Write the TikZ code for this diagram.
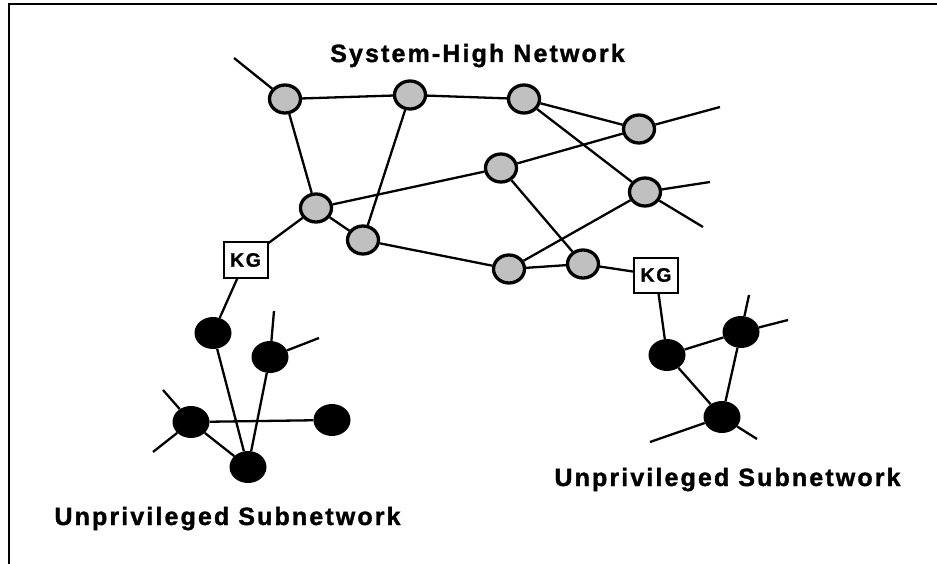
\documentclass[tikz,border=0pt]{standalone}
\usepackage{fontspec}
\setmainfont{Liberation Sans}
\newfontfamily\netfont[LetterSpace=8.5,FakeBold=1.3]{Liberation Sans Bold}
\usetikzlibrary{shapes.geometric}
\definecolor{hostgray}{RGB}{192,192,192}

\begin{document}
\begin{tikzpicture}[x=1pt,y=-1pt,
  hinode/.style={ellipse,draw,line width=3.3pt,fill=hostgray,minimum width=31pt,minimum height=28pt,inner sep=0pt},
  lonode/.style={ellipse,fill=black,minimum width=37pt,minimum height=32pt,inner sep=0pt},
  kgbox/.style={rectangle,draw,line width=2pt,fill=white,minimum width=44pt,minimum height=35pt,inner sep=0pt,font=\netfont\fontsize{19.5}{21}\selectfont},
  netlabel/.style={anchor=base,inner sep=0pt,font=\netfont\fontsize{25}{30}\selectfont},
  link/.style={line width=2.3pt}]
\useasboundingbox (0,0) rectangle (937,564);
% frame (top and left edge only)
\draw[line width=2pt] (9,564) -- (9,4.5) -- (937,4.5);

% system-high network
\node[hinode] (sh1) at (285,99) {};
\node[hinode] (sh2) at (410,95) {};
\node[hinode] (sh3) at (524,99) {};
\node[hinode] (sh4) at (639,129) {};
\node[hinode] (sh5) at (501,168) {};
\node[hinode] (sh6) at (645,192) {};
\node[hinode] (sh7) at (316,208) {};
\node[hinode] (sh8) at (363,240) {};
\node[hinode] (sh9) at (509,269) {};
\node[hinode] (sh10) at (583,264) {};
\coordinate (sh1x) at (234,58);
\coordinate (sh4x) at (720,107);
\coordinate (sh6x) at (710,182);
\coordinate (sh6y) at (703,227);

% key generators
\node[kgbox] (kgL) at (245.5,260) {KG};
\node[kgbox] (kgR) at (656,275) {KG};

% unprivileged subnetworks
\node[lonode] (ul1) at (213,333) {};
\node[lonode] (ul2) at (270,357) {};
\node[lonode] (ul3) at (191,422) {};
\node[lonode] (ul4) at (332,420) {};
\node[lonode] (ul5) at (248,467) {};
\coordinate (ul2x) at (274,311);
\coordinate (ul2y) at (319,338);
\coordinate (ul3x) at (163,390);
\coordinate (ul3y) at (153,452);

\node[lonode] (ur1) at (667,355) {};
\node[lonode] (ur2) at (741,332) {};
\node[lonode] (ur3) at (722,417) {};
\coordinate (ur2x) at (749,295);
\coordinate (ur2y) at (788,320);
\coordinate (ur3x) at (650,442);
\coordinate (ur3y) at (757,439);

\foreach \a/\b in {sh1/sh2,sh2/sh3,sh1/sh7,sh2/sh8,sh3/sh4,sh3/sh6,sh7/sh5,sh5/sh4,
    sh7/sh8,sh8/sh9,sh5/sh10,sh9/sh10,sh9/sh6,sh1/sh1x,sh4/sh4x,sh6/sh6x,sh6/sh6y,
    sh7/kgL,sh10/kgR,kgL/ul1,kgR/ur1,
    ul1/ul5,ul2/ul5,ul3/ul4,ul3/ul5,ul2/ul2x,ul2/ul2y,ul3/ul3x,ul3/ul3y,
    ur1/ur2,ur1/ur3,ur2/ur3,ur2/ur2x,ur2/ur2y,ur3/ur3x,ur3/ur3y}
  \draw[link] (\a) -- (\b);

\node[netlabel] (shlabel) at (477.5,62) {System-High Network};
\node[netlabel] (ullabel) at (227.5,525) {Unprivileged Subnetwork};
\node[netlabel] (urlabel) at (727.5,486) {Unprivileged Subnetwork};
\end{tikzpicture}
\end{document}
